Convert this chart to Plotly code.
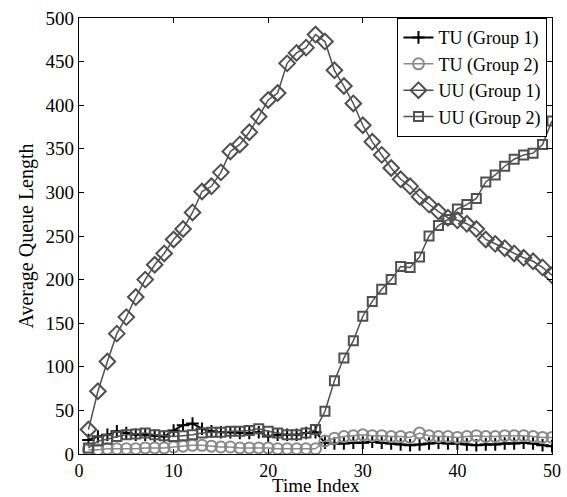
import plotly.graph_objects as go

time_index = list(range(1, 51))

tu_group1 = [16, 20, 22, 26, 24, 22, 22, 21, 20, 27, 33, 35, 29, 26, 25, 25, 24, 24, 25, 20,
             22, 22, 22, 24, 25, 13, 12, 12, 13, 13, 14, 13, 12, 11, 10, 11, 12, 13, 12, 12,
             11, 10, 11, 11, 12, 12, 13, 12, 10, 9]
tu_group2 = [5, 5, 6, 6, 6, 6, 7, 7, 7, 8, 9, 10, 10, 9, 8, 8, 7, 7, 7, 7,
             6, 6, 6, 6, 6, 15, 18, 20, 21, 22, 21, 21, 20, 20, 19, 24, 21, 20, 20, 19,
             20, 21, 20, 20, 21, 21, 21, 20, 19, 19]
uu_group1 = [28, 72, 106, 138, 157, 180, 200, 217, 230, 246, 258, 277, 301, 307, 323, 347, 355, 369, 387, 406,
             414, 448, 460, 466, 481, 473, 440, 422, 402, 377, 358, 343, 328, 315, 307, 295, 286, 278, 271, 268,
             264, 258, 246, 241, 236, 230, 225, 221, 214, 205]
uu_group2 = [7, 15, 17, 20, 22, 23, 24, 22, 21, 20, 21, 22, 24, 25, 25, 26, 26, 27, 29, 26,
             24, 22, 22, 24, 28, 49, 84, 110, 130, 158, 175, 189, 200, 215, 214, 226, 250, 262, 269, 281,
             286, 293, 312, 320, 330, 338, 343, 345, 355, 382]

fig = go.Figure()
fig.add_trace(go.Scatter(x=time_index, y=tu_group1, name="TU (Group 1)", mode="lines+markers",
                         line=dict(color="#000000", width=2),
                         marker=dict(symbol="cross-thin-open", size=9, line=dict(color="#000000", width=2))))
fig.add_trace(go.Scatter(x=time_index, y=tu_group2, name="TU (Group 2)", mode="lines+markers",
                         line=dict(color="#8a8a8a", width=1.5),
                         marker=dict(symbol="circle-open", size=11, color="#8a8a8a", line=dict(width=2))))
fig.add_trace(go.Scatter(x=time_index, y=uu_group1, name="UU (Group 1)", mode="lines+markers",
                         line=dict(color="#505050", width=1.5),
                         marker=dict(symbol="diamond-open", size=12, color="#505050", line=dict(width=2))))
fig.add_trace(go.Scatter(x=time_index, y=uu_group2, name="UU (Group 2)", mode="lines+markers",
                         line=dict(color="#505050", width=1.5),
                         marker=dict(symbol="square-open", size=9, color="#505050", line=dict(width=2))))

axis_common = dict(showgrid=False, zeroline=False, showline=True, linecolor="#000000", linewidth=1.2,
                   mirror="allticks", ticks="inside", ticklen=5, tickcolor="#000000", automargin=False)

margin_b = 43
margin_t = 18
plot_h = 497 - margin_t - margin_b

fig.update_layout(
    width=567, height=497,
    margin=dict(l=79, r=15, t=margin_t, b=margin_b),
    paper_bgcolor="white", plot_bgcolor="white",
    font=dict(family="Liberation Serif", color="#000000"),
    xaxis=dict(range=[0, 50], tickvals=[0, 10, 20, 30, 40, 50],
               tickfont=dict(family="Liberation Serif", size=18, color="#000000"), **axis_common),
    yaxis=dict(range=[0, 500], tickvals=list(range(0, 501, 50)),
               tickfont=dict(family="Liberation Serif", size=19, color="#000000"),
               title=dict(text="Average Queue Length", font=dict(size=20), standoff=6), **axis_common),
    legend=dict(x=0.99, y=1.0, xanchor="right", yanchor="top", bgcolor="white",
                bordercolor="#000000", borderwidth=1.2, font=dict(size=18),
                tracegroupgap=0, itemwidth=30),
    showlegend=True,
    annotations=[dict(text="Time Index", xref="paper", yref="paper", x=0.5, y=-margin_b / plot_h,
                      xanchor="center", yanchor="bottom", showarrow=False, borderpad=0,
                      font=dict(size=19, family="Liberation Serif", color="#000000"))],
)

fig.write_html("out.html")
